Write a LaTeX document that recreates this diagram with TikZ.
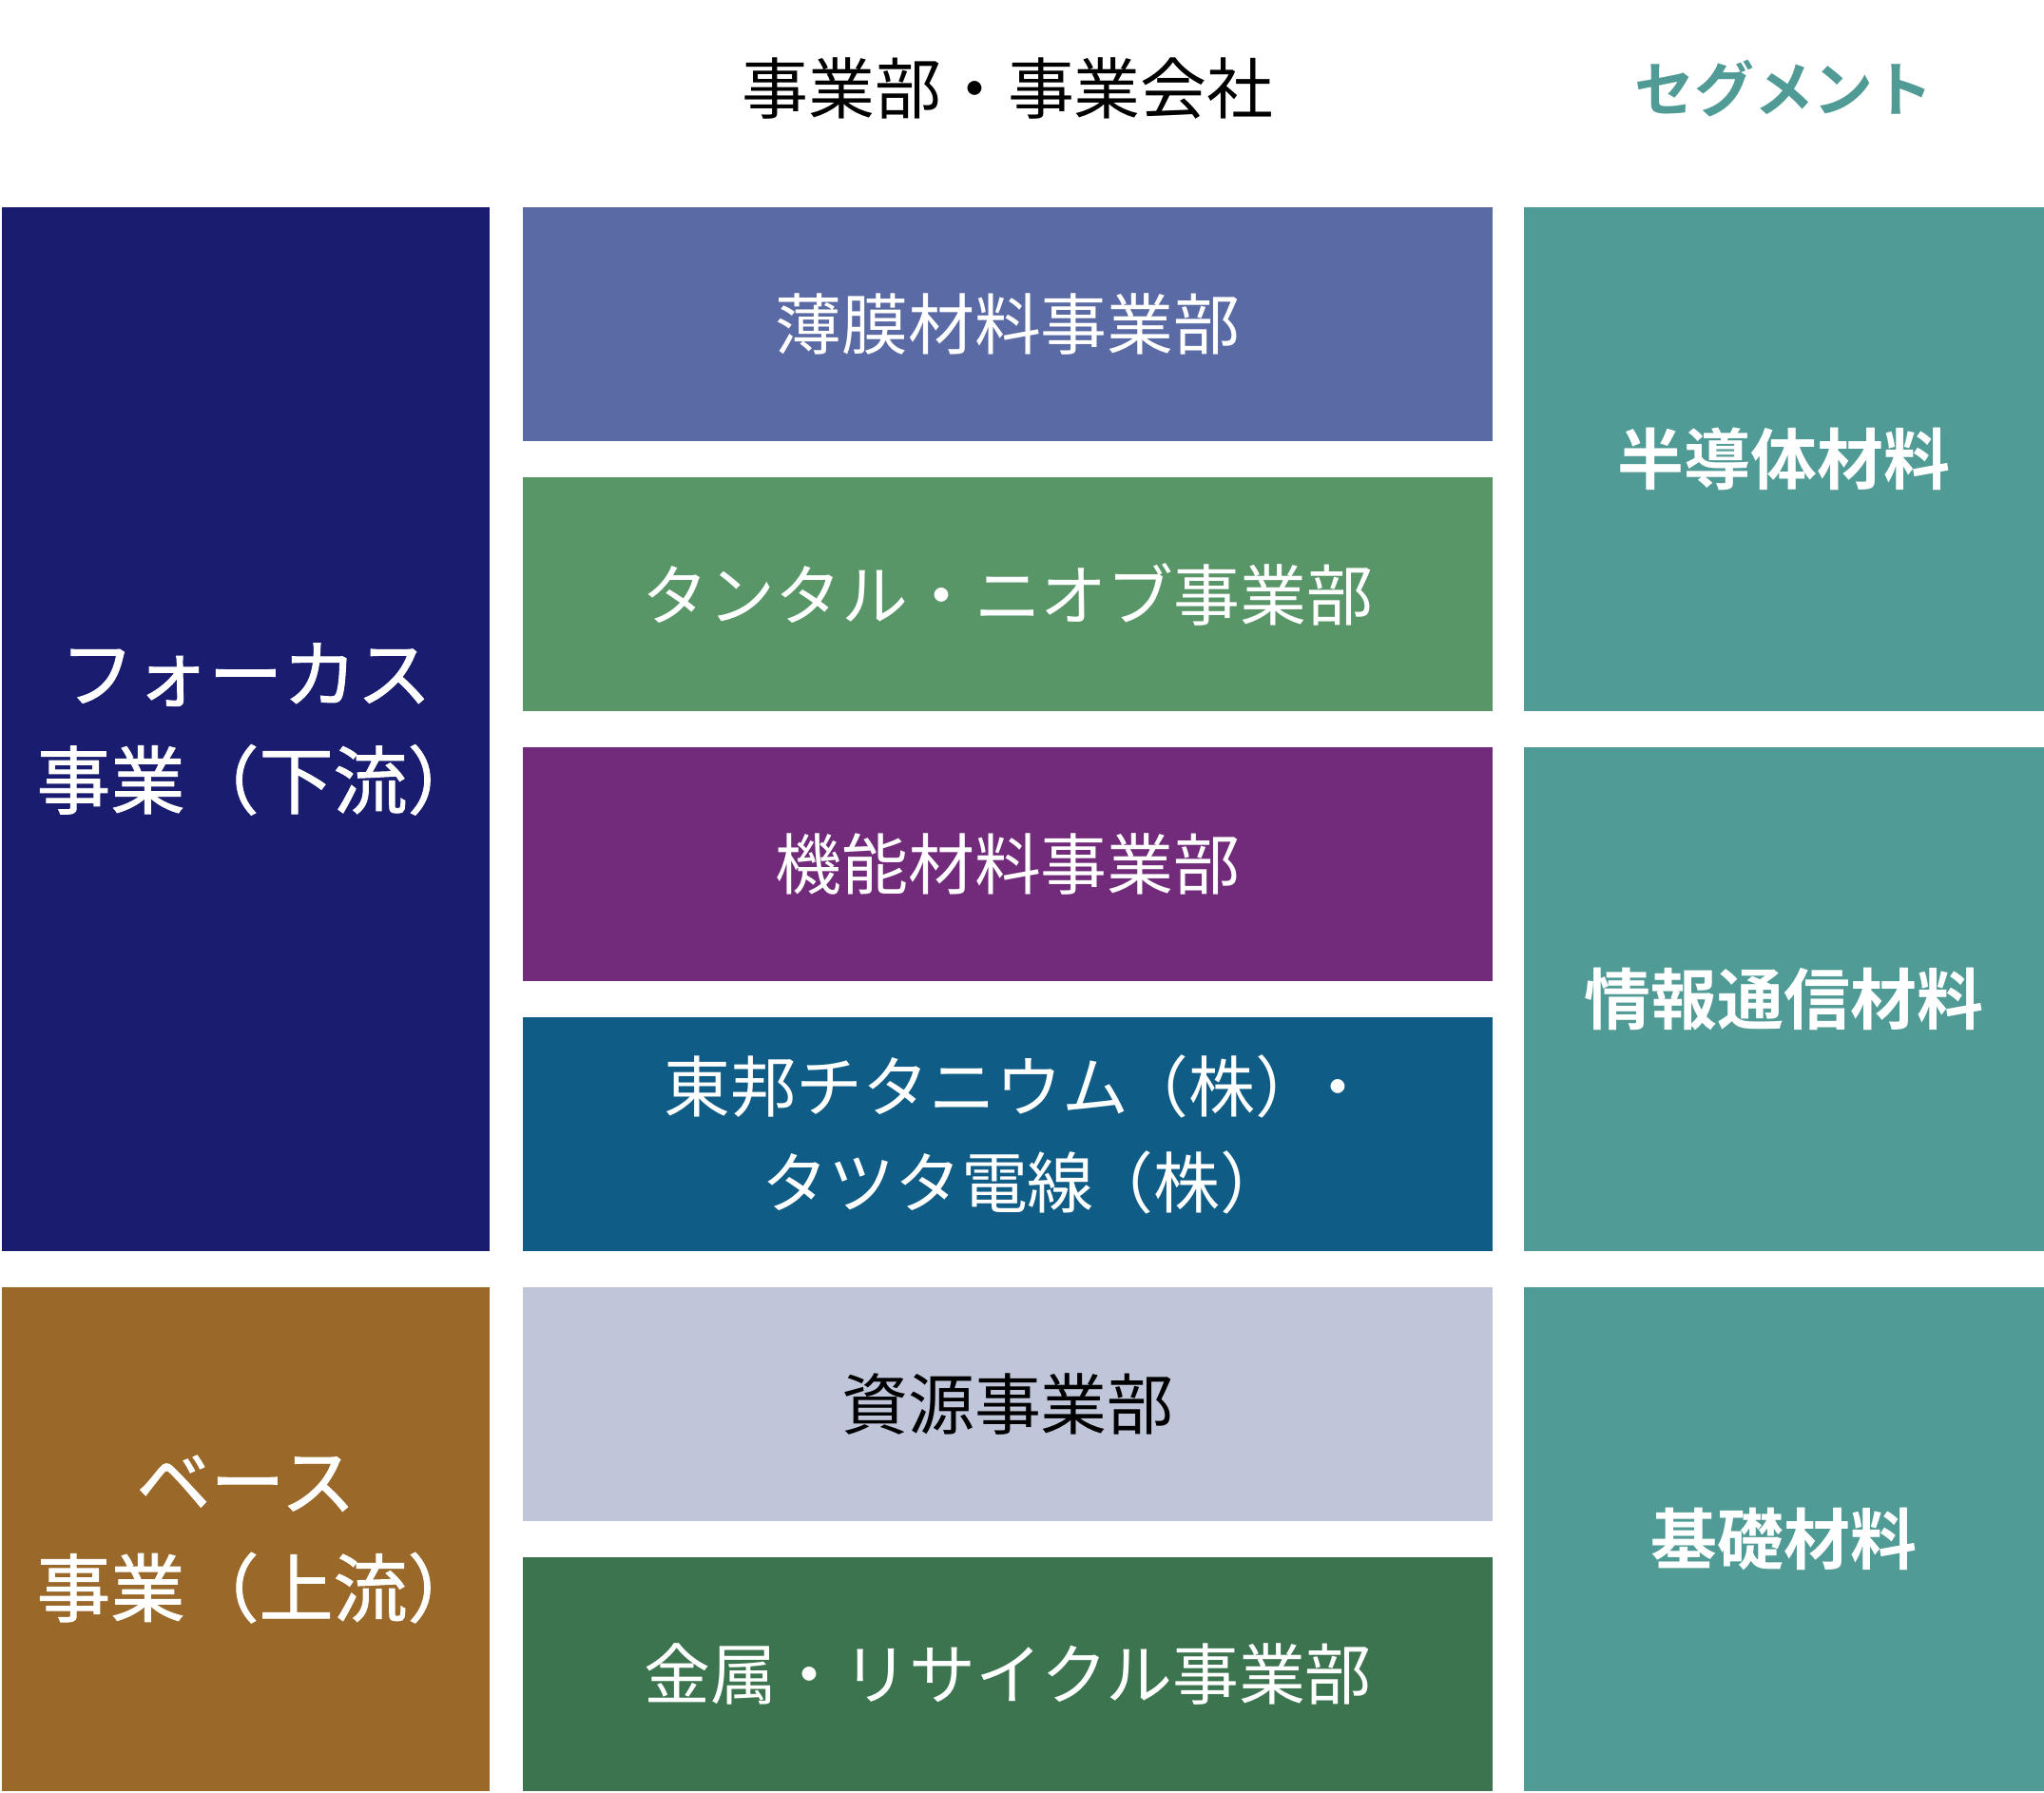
\documentclass[tikz,border=0pt]{standalone}
\usepackage{fontspec}
\setmainfont{Noto Sans CJK JP}
\newfontfamily\cjkmed[FakeBold=1.2]{Noto Sans CJK JP}
\newfontfamily\cjkbold{Noto Sans CJK JP Bold}
\usepackage{tikz}
\usetikzlibrary{positioning}
\definecolor{navyFocus}{HTML}{1A1C70}
\definecolor{brownBase}{HTML}{9A6829}
\definecolor{blueThin}{HTML}{5A6AA4}
\definecolor{greenTa}{HTML}{589668}
\definecolor{purpleFunc}{HTML}{722A7A}
\definecolor{blueToho}{HTML}{0F5C87}
\definecolor{greyRes}{HTML}{C0C6D9}
\definecolor{greenMetal}{HTML}{3B744E}
\definecolor{tealSeg}{HTML}{519B96}
\tikzset{boxGroup/.style={minimum width=5.13cm, inner sep=0pt, align=center, text=white, font=\cjkmed\fontsize{22.2pt}{31.9pt}\selectfont}}
\tikzset{boxDiv/.style={minimum width=10.2cm, minimum height=2.46cm, inner sep=0pt, align=center, text=white, font=\fontsize{19.9pt}{28.7pt}\selectfont}}
\tikzset{boxSeg/.style={minimum width=5.47cm, minimum height=5.3cm, inner sep=0pt, fill=tealSeg, text=white, font=\cjkbold\fontsize{19.9pt}{24pt}\selectfont}}
\tikzset{headText/.style={inner sep=0pt}}
\begin{document}
\begin{tikzpicture}

\useasboundingbox (0,0) rectangle (21.5,-18.86);

\node[headText, font=\fontsize{19.9pt}{24pt}\selectfont] (hdiv) at (10.6, -0.93) {事業部・事業会社};
\node[headText, text=tealSeg, font=\cjkbold\fontsize{17.9pt}{22pt}\selectfont] (hseg) at (18.765, -0.93) {セグメント};

\node[boxGroup, fill=navyFocus, minimum height=10.98cm] (focus) at (2.585, -7.67) {フォーカス\\事業（下流）\kern-0.36em};
\node[boxGroup, fill=brownBase, minimum height=5.3cm] (base) at (2.585, -16.19) {ベース\\事業（上流）\kern-0.36em};

\node[boxDiv, fill=blueThin] (d1) at (10.6, -3.41) {薄膜材料事業部};
\node[boxDiv, fill=greenTa] (d2) at (10.6, -6.25) {タンタル・ニオブ事業部};
\node[boxDiv, fill=purpleFunc] (d3) at (10.6, -9.09) {機能材料事業部};
\node[boxDiv, fill=blueToho] (d4) at (10.6, -11.93) {東邦チタニウム\kern-0.1em（株）\kern-0.25em・\kern-0.3em\\タツタ電線\kern-0.1em（株）\kern-0.5em};
\node[boxDiv, fill=greyRes, text=black] (d5) at (10.6, -14.77) {資源事業部};
\node[boxDiv, fill=greenMetal] (d6) at (10.6, -17.61) {金属・リサイクル事業部};

\node[boxSeg] (s1) at (18.765, -4.83) {半導体材料};
\node[boxSeg] (s2) at (18.765, -10.51) {情報通信材料};
\node[boxSeg] (s3) at (18.765, -16.19) {基礎材料};

\end{tikzpicture}
\end{document}
